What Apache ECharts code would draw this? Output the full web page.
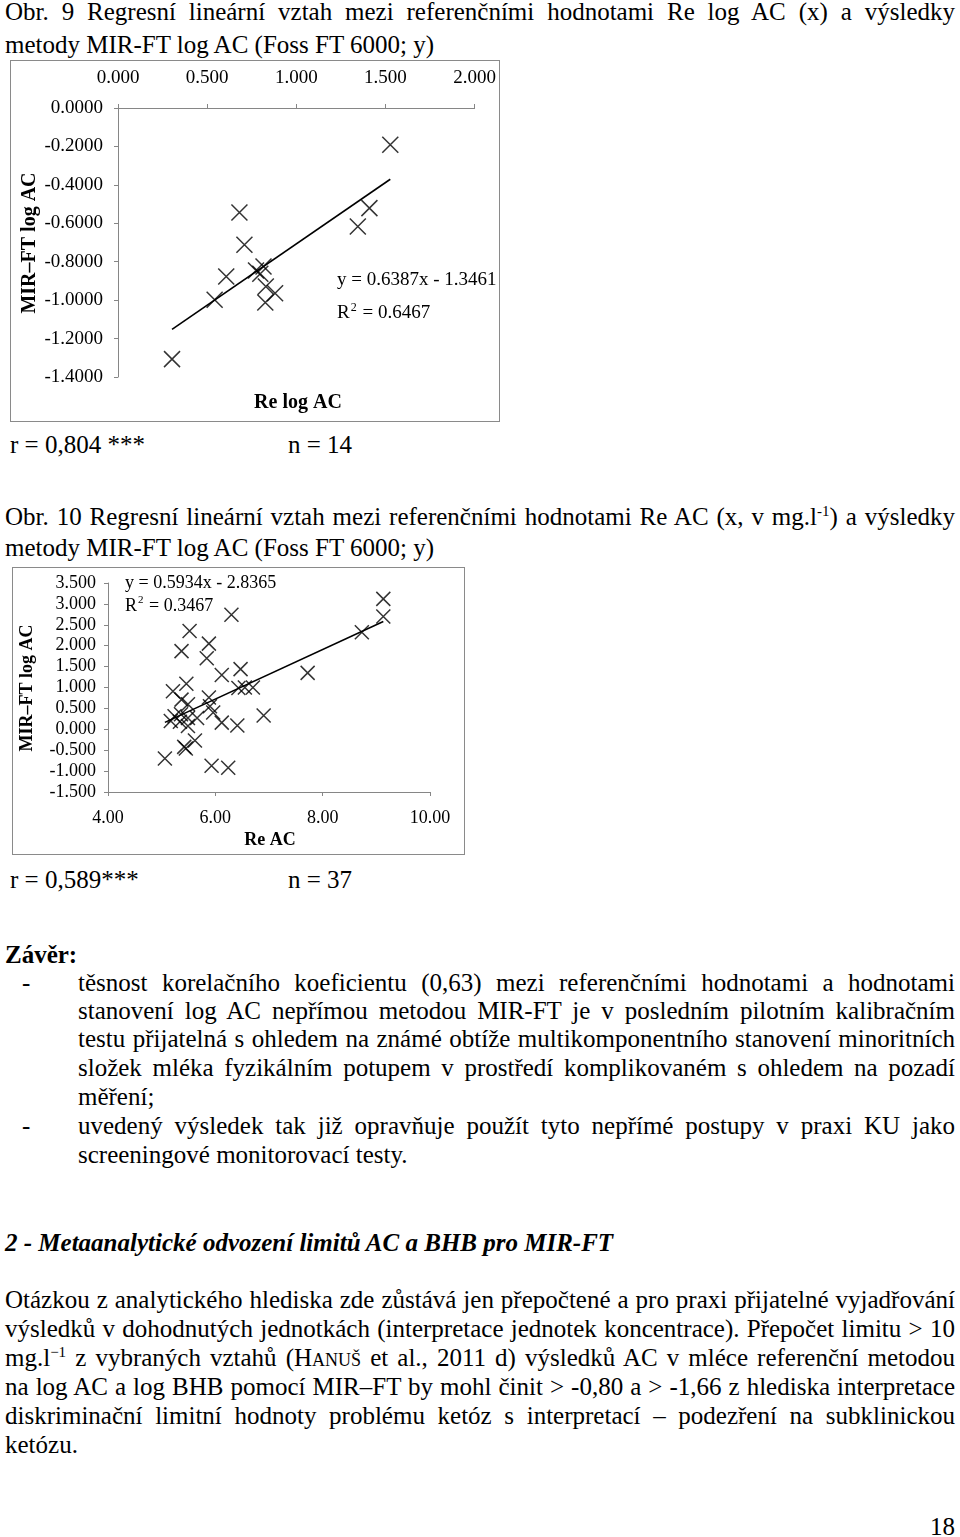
<!DOCTYPE html>
<html>
<head>
<meta charset="utf-8">
<script src="https://cdn.jsdelivr.net/npm/echarts@6/dist/echarts.min.js"></script>
<style>
  html, body { margin: 0; padding: 0; background: #fff; }
  body { width: 960px; height: 1537px; position: relative; overflow: hidden;
         font-family: "Liberation Serif", "Times New Roman", serif; font-size: 25px; color: #000; }
  .ln { position: absolute; height: 28px; line-height: 28px; white-space: normal; }
  .j { text-align: justify; text-align-last: justify; }
  .chart { position: absolute; box-sizing: border-box; border: 1px solid #8a8a8a; }
  sup { font-size: 15px; line-height: 0; vertical-align: 9px; }
  .sc { font-variant: small-caps; }
</style>
</head>
<body>
<div class="ln j" style="left:5px;width:950px;top:-2px;">Obr. 9 Regresní lineární vztah mezi referenčními hodnotami Re log AC (x) a výsledky</div>
<div class="ln" style="left:5px;top:31px;">metody MIR-FT log AC (Foss FT 6000; y)</div>

<div id="c1" class="chart" style="left:10px;top:60px;width:490px;height:362px;"></div>

<div class="ln" style="left:10px;top:431px;">r = 0,804 ***</div>
<div class="ln" style="left:288px;top:431px;">n = 14</div>

<div class="ln j" style="left:5px;width:950px;top:503px;">Obr. 10 Regresní lineární vztah mezi referenčními hodnotami Re AC (x, v mg.l<sup>-1</sup>) a výsledky</div>
<div class="ln" style="left:5px;top:534px;">metody MIR-FT log AC (Foss FT 6000; y)</div>

<div id="c2" class="chart" style="left:12px;top:567px;width:453px;height:288px;"></div>

<div class="ln" style="left:10px;top:866px;">r = 0,589***</div>
<div class="ln" style="left:288px;top:866px;">n = 37</div>

<div class="ln" style="left:5px;top:941px;font-weight:bold;">Závěr:</div>
<div class="ln" style="left:22px;top:969px;">-</div>
<div class="ln j" style="left:78px;width:877px;top:969px;">těsnost korelačního koeficientu (0,63) mezi referenčními hodnotami a hodnotami</div>
<div class="ln j" style="left:78px;width:877px;top:997px;">stanovení log AC nepřímou metodou MIR-FT je v posledním pilotním kalibračním</div>
<div class="ln j" style="left:78px;width:877px;top:1025px;">testu přijatelná s ohledem na známé obtíže multikomponentního stanovení minoritních</div>
<div class="ln j" style="left:78px;width:877px;top:1054px;">složek mléka fyzikálním potupem v prostředí komplikovaném s ohledem na pozadí</div>
<div class="ln" style="left:78px;top:1083px;">měření;</div>
<div class="ln" style="left:22px;top:1112px;">-</div>
<div class="ln j" style="left:78px;width:877px;top:1112px;">uvedený výsledek tak již opravňuje použít tyto nepřímé postupy v praxi KU jako</div>
<div class="ln" style="left:78px;top:1141px;">screeningové monitorovací testy.</div>

<div class="ln" style="left:5px;top:1229px;font-weight:bold;font-style:italic;">2 - Metaanalytické odvození limitů AC a BHB pro MIR-FT</div>

<div class="ln j" style="left:5px;width:950px;top:1286px;">Otázkou z analytického hlediska zde zůstává jen přepočtené a pro praxi přijatelné vyjadřování</div>
<div class="ln j" style="left:5px;width:950px;top:1315px;">výsledků v dohodnutých jednotkách (interpretace jednotek koncentrace). Přepočet limitu &gt; 10</div>
<div class="ln j" style="left:5px;width:950px;top:1344px;">mg.l<sup>−1</sup> z vybraných vztahů (H<span class="sc">anuš</span> et al., 2011 d) výsledků AC v mléce referenční metodou</div>
<div class="ln j" style="left:5px;width:950px;top:1373px;">na log AC a log BHB pomocí MIR–FT by mohl činit &gt; -0,80 a &gt; -1,66 z hlediska interpretace</div>
<div class="ln j" style="left:5px;width:950px;top:1402px;">diskriminační limitní hodnoty problému ketóz s interpretací – podezření na subklinickou</div>
<div class="ln" style="left:5px;top:1431px;">ketózu.</div>

<div class="ln" style="left:930px;top:1513px;">18</div>

<script>
// ---- Chart 1 data (Re log AC vs MIR-FT log AC) ----
var reLogAC   = [0.303, 0.542, 0.607, 0.681, 0.709, 0.774, 0.798, 0.816, 0.829, 0.826, 0.881, 1.345, 1.410, 1.527];
var mirLogAC1 = [-1.307, -0.998, -0.877, -0.544, -0.712, -0.846, -0.863, -0.825, -0.929, -1.012, -0.964, -0.617, -0.521, -0.191];
var slope1 = 0.6387, intercept1 = -1.3461;
var eq1 = 'y = 0.6387x - 1.3461', r2_1 = '0.6467';
var x1Ticks = { min: 0, max: 2, interval: 0.5, decimals: 3 };
var y1Ticks = { min: -1.4, max: 0, interval: 0.2, decimals: 4 };

// ---- Chart 2 data (Re AC vs MIR-FT log AC) ----
var reAC = [9.13, 9.13, 8.73, 6.30, 5.52, 5.88, 5.37, 5.84, 6.12, 6.47, 7.72, 5.46, 5.21,
            6.43, 6.55, 6.70, 5.37, 5.88, 5.49, 5.90, 5.96, 5.24, 5.36, 5.49, 5.66, 5.17,
            5.34, 5.49, 6.12, 6.41, 6.90, 5.62, 5.42, 5.45, 5.06, 5.93, 6.24];
var mirLogAC2 = [3.12, 2.70, 2.32, 2.74, 2.35, 2.05, 1.87, 1.70, 1.30, 1.44, 1.35, 1.09, 0.91,
                 0.99, 1.00, 1.00, 0.71, 0.76, 0.60, 0.55, 0.40, 0.31, 0.36, 0.27, 0.27, 0.20,
                 0.18, 0.08, 0.16, 0.09, 0.33, -0.27, -0.42, -0.46, -0.70, -0.87, -0.92];
var slope2 = 0.5934, intercept2 = -2.8365;
var eq2 = 'y = 0.5934x - 2.8365', r2_2 = '0.3467';
var x2Ticks = { min: 4, max: 10, interval: 2, decimals: 2 };
var y2Ticks = { min: -1.5, max: 3.5, interval: 0.5, decimals: 3 };

var FONT = 'Liberation Serif';
var AXIS_COLOR = '#868686';
var CROSS = 'path://M0,0L10,10M10,0L0,10';

function fmt(d) { return function (v) { if (Math.abs(v) < 1e-9) v = 0; return v.toFixed(d); }; }
function pairs(xs, ys) { return xs.map(function (x, i) { return [x, ys[i]]; }); }
function trend(xs, a, b) {
  var lo = Math.min.apply(null, xs), hi = Math.max.apply(null, xs);
  return [[lo, a * lo + b], [hi, a * hi + b]];
}

function build(el, c) {
  var chart = echarts.init(el, null, { renderer: 'canvas' });
  chart.setOption({
    animation: false,
    grid: c.grid,
    xAxis: {
      type: 'value', position: c.xPos, min: c.xT.min, max: c.xT.max, interval: c.xT.interval,
      axisLine: { show: true, onZero: false, lineStyle: { color: AXIS_COLOR, width: 1 } },
      axisTick: { show: true, inside: false, length: 4, lineStyle: { color: AXIS_COLOR } },
      axisLabel: { formatter: fmt(c.xT.decimals), color: '#000', fontFamily: FONT, fontSize: c.fs, margin: c.xMargin, showMinLabel: true, showMaxLabel: true },
      splitLine: { show: false }
    },
    yAxis: {
      type: 'value', min: c.yT.min, max: c.yT.max, interval: c.yT.interval,
      axisLine: { show: true, onZero: false, lineStyle: { color: AXIS_COLOR, width: 1 } },
      axisTick: { show: true, inside: false, length: 4, lineStyle: { color: AXIS_COLOR } },
      axisLabel: { formatter: fmt(c.yT.decimals), color: '#000', fontFamily: FONT, fontSize: c.fs, margin: c.yMargin, showMinLabel: true, showMaxLabel: true },
      splitLine: { show: false }
    },
    series: [
      { type: 'line', data: c.trend, symbol: 'none', silent: true,
        lineStyle: { color: '#000', width: 1.6 }, z: 2 },
      { type: 'scatter', data: c.points, symbol: CROSS, symbolSize: c.ms,
        itemStyle: { color: 'rgba(0,0,0,0)', borderColor: '#000', borderWidth: 1.5 }, z: 3 }
    ],
    graphic: [
      { type: 'text', x: c.yName[0], y: c.yName[1], rotation: Math.PI / 2,
        style: { text: 'MIR–FT log AC', font: 'bold ' + c.nameFs + 'px "' + FONT + '"', fill: '#000', align: 'center', verticalAlign: 'middle' } },
      { type: 'text', x: c.xName[0], y: c.xName[1],
        style: { text: c.xNameText, font: 'bold ' + c.nameFs + 'px "' + FONT + '"', fill: '#000', align: 'center', verticalAlign: 'middle' } },
      { type: 'text', x: c.eqPos[0], y: c.eqPos[1],
        style: { text: c.eq, font: c.eqFs + 'px "' + FONT + '"', fill: '#000', align: 'left', verticalAlign: 'middle' } },
      { type: 'text', x: c.r2Pos[0], y: c.r2Pos[1],
        style: { text: '{n|R}{s|2}{n| = ' + c.r2 + '}', align: 'left', verticalAlign: 'middle',
                 rich: { n: { fontFamily: FONT, fontSize: c.eqFs, fill: '#000', lineHeight: c.eqFs + 4 },
                         s: { fontFamily: FONT, fontSize: Math.round(c.eqFs * 0.62), fill: '#000', verticalAlign: 'top', lineHeight: c.eqFs + 4, padding: [0, 1, 0, 1] } } } }
    ]
  });
  return chart;
}

build(document.getElementById('c1'), {
  grid: { left: 107, top: 47, width: 369, height: 269 },
  xPos: 'top', xT: x1Ticks, yT: y1Ticks, fs: 19, xMargin: 20, yMargin: 15,
  points: pairs(reLogAC, mirLogAC1), trend: trend(reLogAC, slope1, intercept1), ms: 16,
  yName: [19, 182], xName: [287, 342], xNameText: 'Re log AC', nameFs: 20,
  eq: eq1, r2: r2_1, eqPos: [326, 219], r2Pos: [326, 252], eqFs: 19
});

build(document.getElementById('c2'), {
  grid: { left: 95, top: 15, width: 322, height: 209 },
  xPos: 'bottom', xT: x2Ticks, yT: y2Ticks, fs: 18, xMargin: 17, yMargin: 12,
  points: pairs(reAC, mirLogAC2), trend: trend(reAC, slope2, intercept2), ms: 14,
  yName: [14, 120], xName: [257, 272], xNameText: 'Re AC', nameFs: 18,
  eq: eq2, r2: r2_2, eqPos: [112, 15], r2Pos: [112, 38], eqFs: 18
});
</script>
</body>
</html>
